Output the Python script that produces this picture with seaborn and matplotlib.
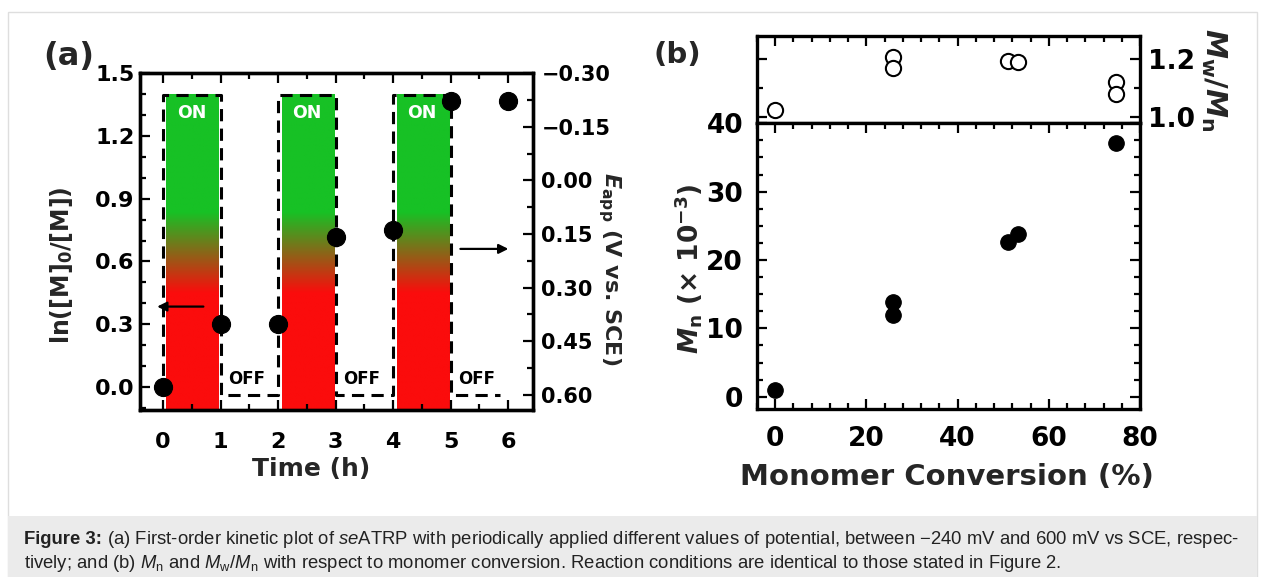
import numpy as np
import matplotlib
matplotlib.use("Agg")
import matplotlib.pyplot as plt
import seaborn as sns
from matplotlib.colors import LinearSegmentedColormap
from matplotlib.patches import Rectangle
from matplotlib.ticker import MultipleLocator, FuncFormatter

# ---- panel (a): first-order kinetics under switched potential ----
time_h = [0, 1, 2, 3, 4, 5, 6]
ln_m0_m = [0.0, 0.30, 0.30, 0.715, 0.75, 1.365, 1.365]
on_start = [0, 2, 4]
on_end = [1, 3, 5]
off_end = [2, 4, 6]
E_on = -0.24   # V vs SCE
E_off = 0.60
E_time = [0, 0, 1, 1, 2, 2, 3, 3, 4, 4, 5, 5, 5.85]
E_applied = [E_off, E_on, E_on, E_off, E_off, E_on, E_on, E_off, E_off, E_on, E_on, E_off, E_off]

# ---- panel (b): Mn and Mw/Mn vs conversion ----
conv_mn = [0, 25.8, 25.8, 51.1, 53.3, 74.8]
mn_k = [1.0, 12.0, 13.8, 22.7, 23.8, 37.1]
conv_pdi = [0, 25.8, 25.8, 51.1, 53.3, 74.8, 74.8]
pdi = [1.023, 1.209, 1.169, 1.195, 1.192, 1.122, 1.079]

caption_head = "Figure 3:"
caption_1 = (r" (a) First-order kinetic plot of $\mathit{se}$ATRP with periodically applied different values "
             "of potential, between \u2212240 mV and 600 mV vs SCE, respec-")
caption_2 = (r"tively; and (b) $\mathit{M}_\mathrm{n}$ and $\mathit{M}_\mathrm{w}$/$\mathit{M}_\mathrm{n}$ "
             "with respect to monomer conversion. Reaction conditions are identical to those stated in Figure 2.")

sns.set_theme(style="ticks")
plt.rcParams.update({
    "font.family": ["DejaVu Sans"],
    "font.weight": "bold",
    "axes.edgecolor": "black",
    "xtick.color": "black",
    "ytick.color": "black",
    "mathtext.fontset": "custom",
    "mathtext.rm": "Liberation Sans:weight=normal",
    "mathtext.it": "Liberation Sans:style=italic:weight=normal",
    "mathtext.bf": "DejaVu Sans:weight=bold",
})
if "mathtext.bfit" in plt.rcParams:
    plt.rcParams["mathtext.bfit"] = "DejaVu Sans:style=italic:weight=bold"
    BFIT = r"\mathbfit"
else:
    BFIT = r"\mathbf"

W, H = 1265, 577
fig = plt.figure(figsize=(W / 100, H / 100), dpi=100)


def box(l, t, r, b):
    return [l / W, 1 - b / H, (r - l) / W, (b - t) / H]


def frame(a, size):
    a.tick_params(which="both", direction="in", width=1.6, color="black", labelcolor="black", labelsize=size)
    a.tick_params(which="major", length=7)
    a.tick_params(which="minor", length=4)
    for s in a.spines.values():
        s.set_linewidth(2.4)
        s.set_color("black")


def fmt(d):
    return FuncFormatter(lambda v, p: f"{round(v, d) + 0.0:.{d}f}".replace("-", "\u2212"))


# page frame and caption box
fig.add_artist(Rectangle((8 / W, 0), 1249 / W, 565 / H, transform=fig.transFigure,
                         fill=False, edgecolor="#dedede", lw=1))
fig.add_artist(Rectangle((8 / W, 0), 1249 / W, 61 / H, transform=fig.transFigure,
                         facecolor="#ebebeb", edgecolor="none"))

# ================= panel (a) =================
ax = fig.add_axes(box(140, 72.7, 533, 410))
ax2 = ax.twinx()
ax.set_zorder(ax2.get_zorder() + 1)
ax.patch.set_visible(False)

E_floor = 0.643
green, red = "#17c125", "#fb0c0c"
g_end = (0.09 - E_on) / (E_floor - E_on)
r_start = (0.316 - E_on) / (E_floor - E_on)
cmap = LinearSegmentedColormap.from_list("onoff", [(0, green), (g_end, green), (r_start, red), (1, red)])
grad = np.linspace(0, 1, 256).reshape(-1, 1)
for s, e in zip(on_start, on_end):
    ax2.imshow(grad, cmap=cmap, aspect="auto", origin="upper", interpolation="bilinear",
               extent=(s + 0.06, e - 0.03, E_floor, E_on), zorder=0)
    ax2.text((s + e) / 2, -0.19, "ON", color="white", ha="center", va="center", fontsize=12.5, weight="bold")
for s, e in zip(on_end, off_end):
    ax2.text((s + e) / 2 - 0.05, 0.556, "OFF", color="black", ha="center", va="center", fontsize=12, weight="bold")

sns.lineplot(x=E_time, y=E_applied, ax=ax2, estimator=None, sort=False, color="black",
             linewidth=2.2, linestyle=(0, (4, 2.4)), zorder=3)

sns.scatterplot(x=time_h, y=ln_m0_m, ax=ax, color="black", s=170, edgecolor="black",
                linewidth=0.8, zorder=5, clip_on=False)

ax.annotate("", xy=(-0.15, 0.385), xytext=(0.75, 0.385),
            arrowprops=dict(arrowstyle="-|>", color="black", lw=1.6, mutation_scale=14))
ax.annotate("", xy=(6.05, 0.66), xytext=(5.12, 0.66),
            arrowprops=dict(arrowstyle="-|>", color="black", lw=1.6, mutation_scale=14))

ax.set_xlim(-0.4, 6.43)
ax.set_ylim(-0.108, 1.5)
ax2.set_ylim(E_floor, -0.302)
ax.xaxis.set_major_locator(MultipleLocator(1))
ax.xaxis.set_minor_locator(MultipleLocator(0.5))
ax.yaxis.set_major_locator(MultipleLocator(0.3))
ax.yaxis.set_minor_locator(MultipleLocator(0.1))
ax.yaxis.set_major_formatter(fmt(1))
ax2.yaxis.set_major_locator(MultipleLocator(0.15))
ax2.yaxis.set_minor_locator(MultipleLocator(0.075))
ax2.yaxis.set_major_formatter(fmt(2))

frame(ax, 16)
frame(ax2, 15)
ax.tick_params(which="both", top=True, bottom=True, left=True, right=False)
ax.tick_params(axis="x", pad=16)
ax.tick_params(axis="y", pad=4)
ax2.tick_params(which="both", right=True, left=False, pad=6)

ax.set_xlabel("Time (h)", fontsize=18, weight="bold")
ax.xaxis.set_label_coords(0.435, -0.14)
ax.set_ylabel(r"ln([M]$_\mathbf{0}$/[M])", fontsize=17, weight="bold")
ax.yaxis.set_label_coords(-0.165, 0.43)
ax2.set_ylabel(r"$" + BFIT + r"{E}_\mathbf{app}$ (V vs. SCE)", fontsize=16, weight="bold",
               rotation=270, va="bottom")
ax2.yaxis.set_label_coords(1.16, 0.42)

fig.text(43 / W, 1 - 65 / H, "(a)", fontsize=23, weight="bold", va="baseline")

# ================= panel (b) =================
axt = fig.add_axes(box(757, 36, 1140, 123.3))
axb = fig.add_axes(box(757, 123.3, 1140, 409))

sns.scatterplot(x=conv_pdi, y=pdi, ax=axt, color="white", s=120, edgecolor="black",
                linewidth=1.5, zorder=5, clip_on=False)
sns.scatterplot(x=conv_mn, y=mn_k, ax=axb, color="black", s=125, edgecolor="black",
                linewidth=0.8, zorder=5, clip_on=False)

for a in (axt, axb):
    a.set_xlim(-4, 80)
    a.xaxis.set_major_locator(MultipleLocator(20))
    a.xaxis.set_minor_locator(MultipleLocator(4))
    frame(a, 19)

axt.set_ylim(0.977, 1.281)
axt.yaxis.set_major_locator(MultipleLocator(0.2))
axt.yaxis.set_minor_locator(MultipleLocator(0.1))
axt.yaxis.set_major_formatter(fmt(1))
axt.tick_params(which="both", left=True, right=True, top=True, bottom=False,
                labelleft=False, labelright=True, labelbottom=False, pad=6)
axt.yaxis.set_label_position("right")
axt.set_ylabel(r"$" + BFIT + r"{M}_\mathbf{w}$/$" + BFIT + r"{M}_\mathbf{n}$", fontsize=21,
               weight="bold", rotation=270, va="bottom")
axt.yaxis.set_label_coords(1.155, 0.5)

axb.set_ylim(-1.8, 40)
axb.yaxis.set_major_locator(MultipleLocator(10))
axb.yaxis.set_minor_locator(MultipleLocator(2.5))
axb.tick_params(which="both", left=True, right=True, top=True, bottom=True)
axb.tick_params(axis="y", pad=10)
axb.tick_params(axis="x", pad=12)
axb.set_ylabel(r"$" + BFIT + r"{M}_\mathbf{n}$ (" + "\u00d7" + r" 10$^{\mathbf{-3}}$)",
               fontsize=19, weight="bold")
axb.yaxis.set_label_coords(-0.136, 0.49)
axb.set_xlabel("Monomer Conversion (%)", fontsize=21, weight="bold")
axb.xaxis.set_label_coords(0.496, -0.19)

fig.text(653 / W, 1 - 63 / H, "(b)", fontsize=21, weight="bold", va="baseline")

# ================= caption =================
cap_fs = 13.3
y1, y2 = 1 - 540 / H, 1 - 564 / H
head = fig.text(24 / W, y1, caption_head, fontsize=cap_fs, weight="bold", family="Liberation Sans",
                va="center", color="#222222")
fig.canvas.draw()
hb = head.get_window_extent()
fig.text(hb.x1 / W, y1, caption_1, fontsize=cap_fs, weight="normal", family="Liberation Sans",
         va="center", color="#222222")
fig.text(24 / W, y2, caption_2, fontsize=cap_fs, weight="normal", family="Liberation Sans",
         va="center", color="#222222")

fig.savefig("out.png", dpi=100)
